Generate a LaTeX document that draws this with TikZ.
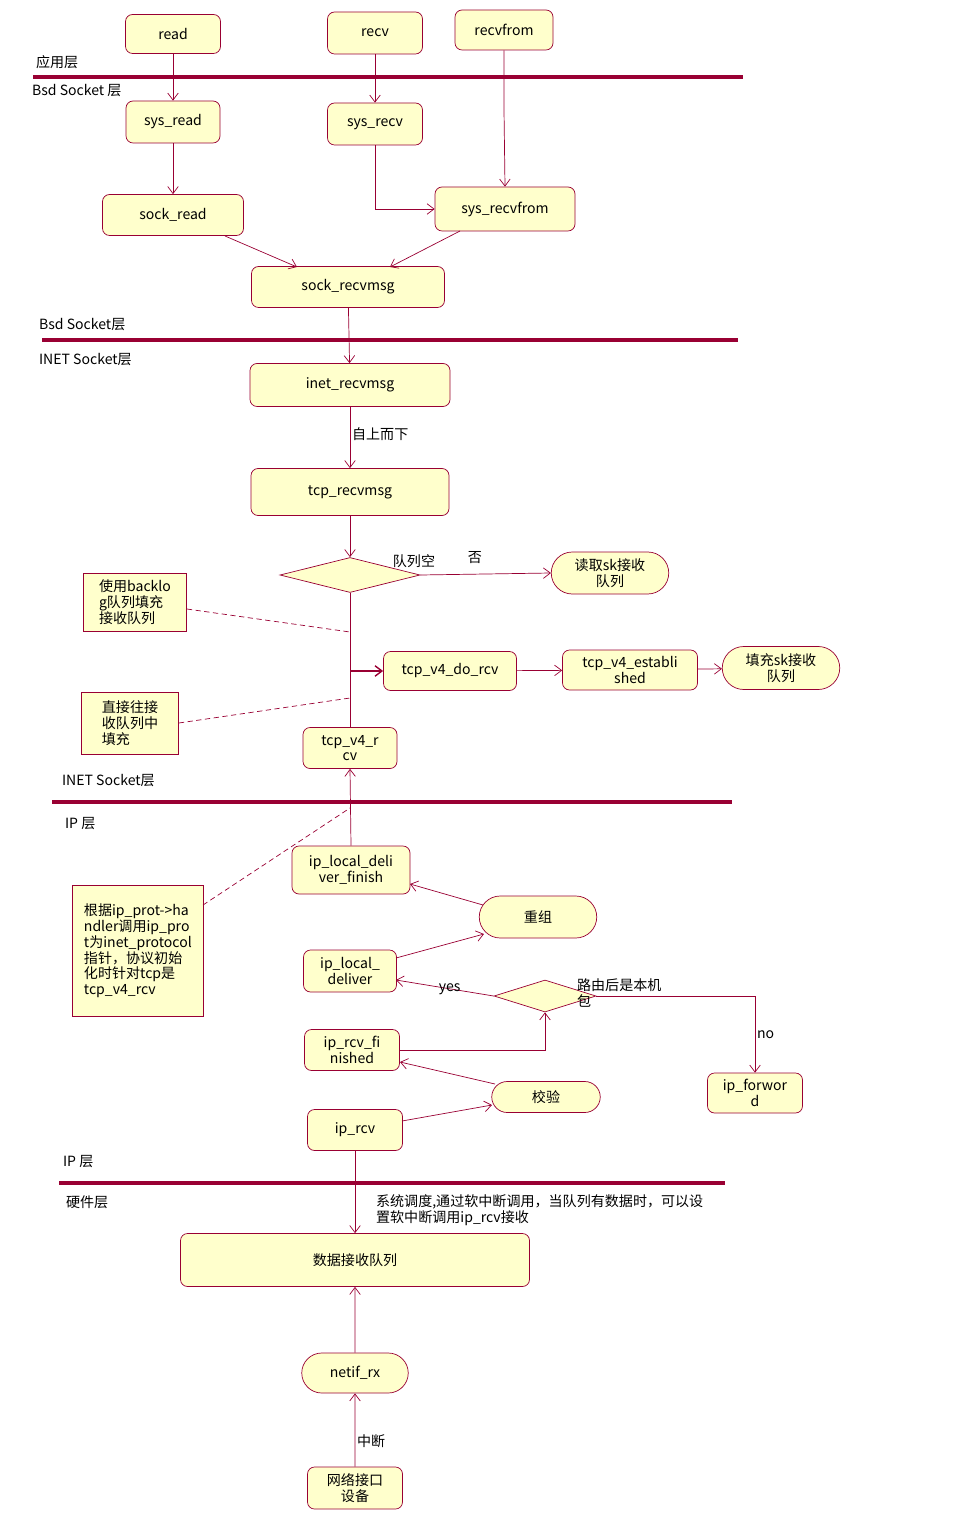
\documentclass[tikz,border=0pt]{standalone}
\usepackage{fontspec}
\setmainfont{Noto Sans CJK SC}
\usetikzlibrary{shapes.geometric,shapes.misc,arrows.meta}
\definecolor{umlline}{HTML}{990033}
\definecolor{umlfill}{HTML}{FFFFCC}
\tikzset{
  box/.style 2 args={draw=umlline,fill=umlfill,rounded corners=4pt,minimum width=#1*0.02cm,minimum height=#2*0.02cm,inner sep=1pt,align=center,font=\fontsize{8}{9}\selectfont},
  act/.style 2 args={draw=umlline,fill=umlfill,rounded rectangle,minimum width=#1*0.02cm,minimum height=#2*0.02cm,inner sep=1pt,align=center,font=\fontsize{8}{9}\selectfont},
  note/.style 2 args={draw=umlline,fill=umlfill,minimum width=#1*0.02cm,minimum height=#2*0.02cm,inner sep=2pt,align=left,font=\fontsize{8}{9}\selectfont},
  dec/.style 2 args={draw=umlline,fill=umlfill,diamond,minimum width=#1*0.02cm,minimum height=#2*0.02cm,inner sep=0pt},
  flow/.style={draw=umlline,-{Straight Barb[length=4pt,width=6pt]}},
  link/.style={draw=umlline,densely dashed},
  sep/.style={draw=umlline,line width=2.2pt},
  lbl/.style={font=\fontsize{8}{9}\selectfont,inner sep=1pt}
}
\begin{document}
\begin{tikzpicture}[x=0.02cm,y=-0.02cm]
\useasboundingbox (0,0) rectangle (965,1533);
% separators
\draw[sep] (33,77) -- (743,77);
\draw[sep] (42,340) -- (738,340);
\draw[sep] (52,802) -- (732,802);
\draw[sep] (59,1183) -- (725,1183);
\node[lbl,anchor=west] at (34,62) {应用层};
\node[lbl,anchor=west] at (30,91) {Bsd Socket 层};
\node[lbl,anchor=west] at (37,325) {Bsd Socket层};
\node[lbl,anchor=west] at (37,360) {INET Socket层};
\node[lbl,anchor=west] at (60,781) {INET Socket层};
\node[lbl,anchor=west] at (63,824) {IP 层};
\node[lbl,anchor=west] at (61,1162) {IP 层};
\node[lbl,anchor=west] at (64,1202) {硬件层};
% nodes
\node[box={95}{39}] (read) at (173,34) {read};
\node[box={95}{42}] (recv) at (375,33) {recv};
\node[box={98}{40}] (recvfrom) at (504,30) {recvfrom};
\node[box={94}{42}] (sysread) at (173,122) {sys\_read};
\node[box={95}{42}] (sysrecv) at (375,124) {sys\_recv};
\node[box={141}{41}] (sockread) at (173,215) {sock\_read};
\node[box={140}{44}] (sysrecvfrom) at (505,209) {sys\_recvfrom};
\node[box={193}{41}] (sockrecvmsg) at (348,287) {sock\_recvmsg};
\node[box={200}{43}] (inetrecvmsg) at (350,385) {inet\_recvmsg};
\node[box={198}{47}] (tcprecvmsg) at (350,492) {tcp\_recvmsg};
\node[dec={140}{35}] (qempty) at (350,575) {};
\node[act={121}{42}] (readsk) at (610,573) {读取sk接收\\队列};
\node[box={133}{39}] (dorcv) at (450,671) {tcp\_v4\_do\_rcv};
\node[box={135}{40}] (estab) at (630,670) {tcp\_v4\_establi\\shed};
\node[act={121}{43}] (fillsk) at (781,668) {填充sk接收\\队列};
\node[box={94}{41}] (v4rcv) at (350,748) {tcp\_v4\_r\\cv};
\node[note={103}{58}] (note1) at (135,602) {使用backlo\\g队列填充\\接收队列};
\node[note={97}{62}] (note2) at (130,723) {直接往接\\收队列中\\填充};
\node[note={131}{131},anchor=north west] (note3) at (72,885) {根据ip\_prot->ha\\ndler调用ip\_pro\\t为inet\_protocol\\指针，协议初始\\化时针对tcp是\\tcp\_v4\_rcv};
\node[box={118}{48}] (ldfinish) at (351,870) {ip\_local\_deli\\ver\_finish};
\node[act={121}{42}] (regroup) at (538,917) {重组};
\node[box={93}{42}] (ldeliver) at (350,971) {ip\_local\_\\deliver};
\node[dec={102}{32}] (route) at (545,996) {};
\node[box={95}{41}] (rcvfin) at (352,1050) {ip\_rcv\_fi\\nished};
\node[act={112}{31}] (check) at (546,1097) {校验};
\node[box={95}{40}] (forword) at (755,1093) {ip\_forwor\\d};
\node[box={95}{41}] (iprcv) at (355,1130) {ip\_rcv};
\node[box={349}{53}] (rxqueue) at (355,1260) {数据接收队列};
\node[act={110}{40}] (netif) at (355,1373) {netif\_rx};
\node[box={95}{42}] (nic) at (355,1488) {网络接口\\设备};
% connectors
\draw[flow] (read) -- (sysread);
\draw[flow] (recv) -- (sysrecv);
\draw[flow] (recvfrom.south) -- (504,110) -- (sysrecvfrom.north);
\draw[flow] (sysread) -- (sockread);
\draw[flow] (sysrecv.south) |- (sysrecvfrom.west);
\draw[flow] (225,236) -- (297,267);
\draw[flow] (460,231) -- (390,267);
\draw[flow] (sockrecvmsg) -- (inetrecvmsg);
\draw[flow] (inetrecvmsg) -- node[lbl,right,pos=0.45] {自上而下} (tcprecvmsg);
\draw[flow] (tcprecvmsg) -- (qempty.north);
\draw[flow] (qempty.east) -- (readsk.west);
\node[lbl] at (414,561) {队列空};
\node[lbl] at (475,558) {否};
\draw[umlline] (qempty.south) -- (v4rcv.north);
\draw[flow,thick] (350,671) -- (dorcv.west);
\draw[flow] (dorcv) -- (estab);
\draw[flow] (estab) -- (fillsk);
\draw[link] (note1.east) ++(0,7) -- (350,632);
\draw[link] (note2.east) -- (350,698);
\draw[link] (203,905) -- (350,808);
\draw[flow] (ldfinish.north) -- (v4rcv.south);
\draw[flow] (483,905) -- (410,884);
\draw[flow] (396,958) -- (484,934);
\draw[flow] (route.west) -- node[lbl,pos=0.45] {yes} (396,980);
\draw[flow] (route.east) -| node[lbl,pos=0.75,right] {no} (forword.north);
\node[lbl,anchor=north west,align=left] at (575,977) {路由后是本机\\包};
\draw[flow] (rcvfin.east) -| (route.south);
\draw[flow] (495,1084) -- (400,1062);
\draw[flow] (402,1121) -- (492,1105);
\draw[flow] (iprcv) -- (rxqueue);
\node[lbl,anchor=north west,align=left] at (374,1193) {系统调度,通过软中断调用，当队列有数据时，可以设\\置软中断调用ip\_rcv接收};
\draw[flow] (netif) -- (rxqueue);
\draw[flow] (nic) -- node[lbl,right,pos=0.35] {中断} (netif);
\end{tikzpicture}
\end{document}
